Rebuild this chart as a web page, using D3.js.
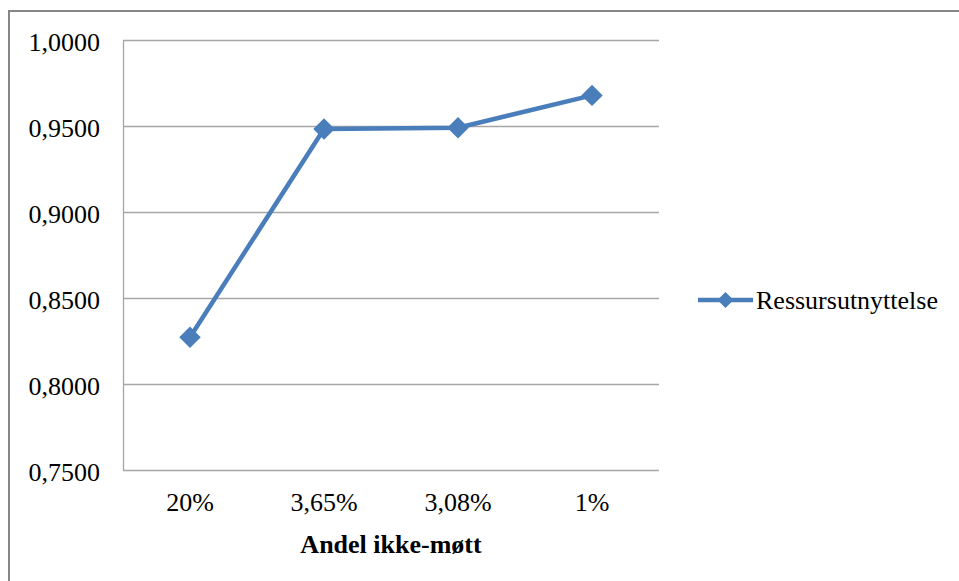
<!DOCTYPE html>
<html>
<head>
<meta charset="utf-8">
<script src="https://cdn.jsdelivr.net/npm/d3@7"></script>
<style>
  html, body { margin: 0; padding: 0; background: #fff; }
  svg { display: block; }
</style>
</head>
<body>
<svg id="chart" width="959" height="581"></svg>
<script>
// Share of no-shows (categories) and resource utilisation per category
const categories = ["20%", "3,65%", "3,08%", "1%"];
const values = [0.8272, 0.9483, 0.9490, 0.9678];
const yTicks = [0.75, 0.80, 0.85, 0.90, 0.95, 1.00];
const seriesName = "Ressursutnyttelse";
const xTitle = "Andel ikke-møtt";

const FONT = "'Liberation Serif', 'Times New Roman', serif";
const svg = d3.select("#chart").style("font-family", FONT);
const color = "#4a7ebb";

// outer chart frame
svg.append("rect")
  .attr("x", 9).attr("y", 11)
  .attr("width", 959).attr("height", 600)
  .attr("fill", "#fff").attr("stroke", "#868686").attr("stroke-width", 2);

const plot = { left: 123, right: 659, top: 40, bottom: 470 };

const x = d3.scaleBand().domain(categories).range([plot.left, plot.right]);
const y = d3.scaleLinear().domain([0.75, 1.0]).range([plot.bottom, plot.top]);

const fmt = v => d3.format(".4f")(v).replace(".", ",");

// horizontal gridlines
svg.append("g")
  .selectAll("line")
  .data(yTicks.filter(t => t > 0.75))
  .join("line")
  .attr("x1", plot.left).attr("x2", plot.right)
  .attr("y1", d => Math.round(y(d)) + 0.5).attr("y2", d => Math.round(y(d)) + 0.5)
  .attr("stroke", "#a6a6a6").attr("stroke-width", 1.3);

// axis lines
svg.append("line")
  .attr("x1", plot.left + 0.5).attr("x2", plot.left + 0.5)
  .attr("y1", plot.top).attr("y2", plot.bottom)
  .attr("stroke", "#a6a6a6").attr("stroke-width", 1.3);
svg.append("line")
  .attr("x1", plot.left).attr("x2", plot.right)
  .attr("y1", plot.bottom + 0.5).attr("y2", plot.bottom + 0.5)
  .attr("stroke", "#a6a6a6").attr("stroke-width", 1.3);

// y tick labels
svg.append("g")
  .selectAll("text")
  .data(yTicks)
  .join("text")
  .attr("x", 100).attr("y", d => y(d) + 2)
  .attr("dy", "0.35em")
  .attr("text-anchor", "end")
  .attr("font-size", 26)
  .attr("fill", "#000")
  .text(fmt);

// x tick labels
svg.append("g")
  .selectAll("text")
  .data(categories)
  .join("text")
  .attr("x", d => x(d) + x.bandwidth() / 2)
  .attr("y", 511)
  .attr("text-anchor", "middle")
  .attr("font-size", 26)
  .attr("fill", "#000")
  .text(d => d);

// x axis title
svg.append("text")
  .attr("x", (plot.left + plot.right) / 2)
  .attr("y", 553)
  .attr("text-anchor", "middle")
  .attr("font-size", 26)
  .attr("font-weight", "bold")
  .attr("fill", "#000")
  .text(xTitle);

// series line
const line = d3.line()
  .x((d, i) => x(categories[i]) + x.bandwidth() / 2)
  .y(d => y(d));

svg.append("path")
  .datum(values)
  .attr("d", line)
  .attr("fill", "none")
  .attr("stroke", color)
  .attr("stroke-width", 4.5)
  .attr("stroke-linejoin", "round");

const diamond = d3.symbol().type(d3.symbolSquare).size(230);
svg.append("g")
  .selectAll("path")
  .data(values)
  .join("path")
  .attr("d", diamond)
  .attr("transform", (d, i) => `translate(${x(categories[i]) + x.bandwidth() / 2},${y(d)}) rotate(45)`)
  .attr("fill", color);

// legend
const lg = svg.append("g").attr("transform", "translate(698,300)");
lg.append("line").attr("x1", 0).attr("x2", 55).attr("y1", 0).attr("y2", 0)
  .attr("stroke", color).attr("stroke-width", 4.5);
lg.append("path").attr("d", d3.symbol().type(d3.symbolSquare).size(130))
  .attr("transform", "translate(27.5,0) rotate(45)").attr("fill", color);
lg.append("text").attr("x", 58).attr("y", 0).attr("dy", "0.35em")
  .attr("font-size", 26).attr("fill", "#000").text(seriesName);
</script>
</body>
</html>
